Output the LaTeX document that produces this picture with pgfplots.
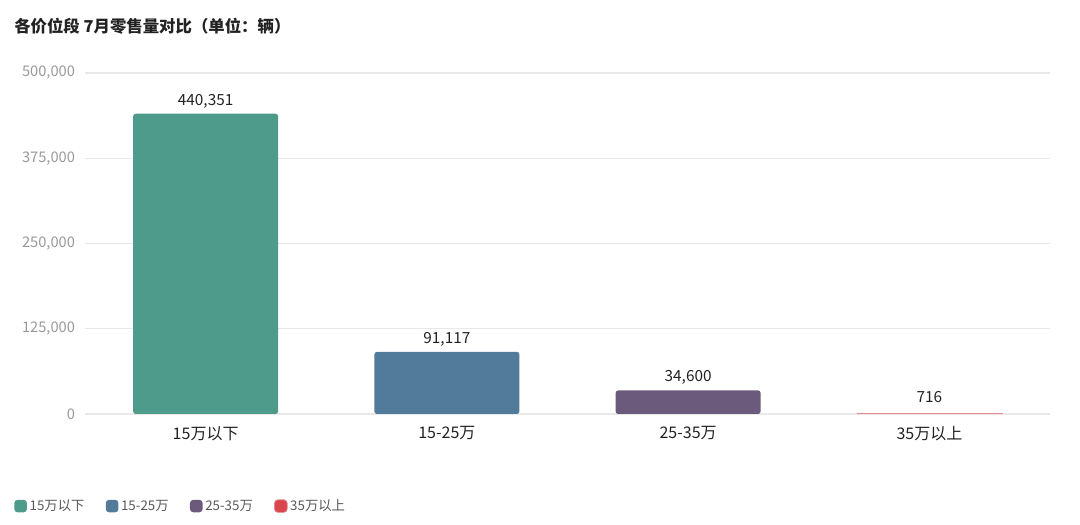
\documentclass[border=0pt]{standalone}
\usepackage{fontspec}
\setmainfont{Noto Sans CJK SC}
\usepackage{pgfplots}
\pgfplotsset{compat=1.18}
\definecolor{cA}{HTML}{4E9A8B}
\definecolor{cB}{HTML}{527A9B}
\definecolor{cC}{HTML}{6C5A7D}
\definecolor{cD}{HTML}{D9464E}
\definecolor{gridc}{HTML}{E8E8E8}
\definecolor{tickc}{HTML}{999999}
\definecolor{txt}{HTML}{222222}
\begin{document}
\begin{tikzpicture}[x=0.75pt,y=0.75pt]
\useasboundingbox (0,0) rectangle (1080,524);
\node[anchor=west,font=\bfseries\fontsize{12.3}{14}\selectfont,text=txt,inner sep=0] at (14,498) {各价位段 7月零售量对比（单位：辆）};
\begin{axis}[
  at={(63.75pt,82.5pt)}, anchor=south west,
  scale only axis, width=723.75pt, height=255.75pt,
  ybar, bar width=108.75pt, bar shift=0pt,
  xmin=-0.5, xmax=3.5, ymin=0, ymax=500000,
  xtick={0,1,2,3}, xticklabels={15万以下,15-25万,25-35万,35万以上},
  ytick={0,125000,250000,375000,500000},
  yticklabels={0,{125,000},{250,000},{375,000},{500,000}},
  scaled y ticks=false,
  axis line style={draw=none},
  major tick length=0pt,
  ymajorgrids, grid style={gridc, line width=0.8pt},
  yticklabel style={font=\fontsize{11}{12}\selectfont, text=tickc, xshift=-4pt},
  xticklabel style={font=\fontsize{12}{14}\selectfont, text=txt, yshift=-6pt},
  every node near coord/.append style={font=\fontsize{11.5}{13}\selectfont, text=txt, yshift=0.75pt},
  legend style={at={(-0.0777,-0.27)}, anchor=west, draw=none, fill=none,
    font=\fontsize{10}{11}\selectfont, text=txt!75, legend columns=-1,
    /tikz/every even column/.append style={column sep=14pt}},
  legend image code/.code={\fill[#1, rounded corners=2.5pt] (0pt,-4.7pt) rectangle (9.5pt,4.7pt);},
]
\addplot[fill=cA, draw=none, rounded corners=2pt, nodes near coords={440,351}] coordinates {(0,440351)};
\addplot[fill=cB, draw=none, rounded corners=2pt, nodes near coords={91,117}] coordinates {(1,91117)};
\addplot[fill=cC, draw=none, rounded corners=2pt, nodes near coords={34,600}] coordinates {(2,34600)};
\addplot[fill=cD, draw=cD!65, line width=0.5pt, nodes near coords={716}, every node near coord/.append style={yshift=4pt}] coordinates {(3,716)};
\legend{15万以下,15-25万,25-35万,35万以上}
\end{axis}
\end{tikzpicture}
\end{document}
